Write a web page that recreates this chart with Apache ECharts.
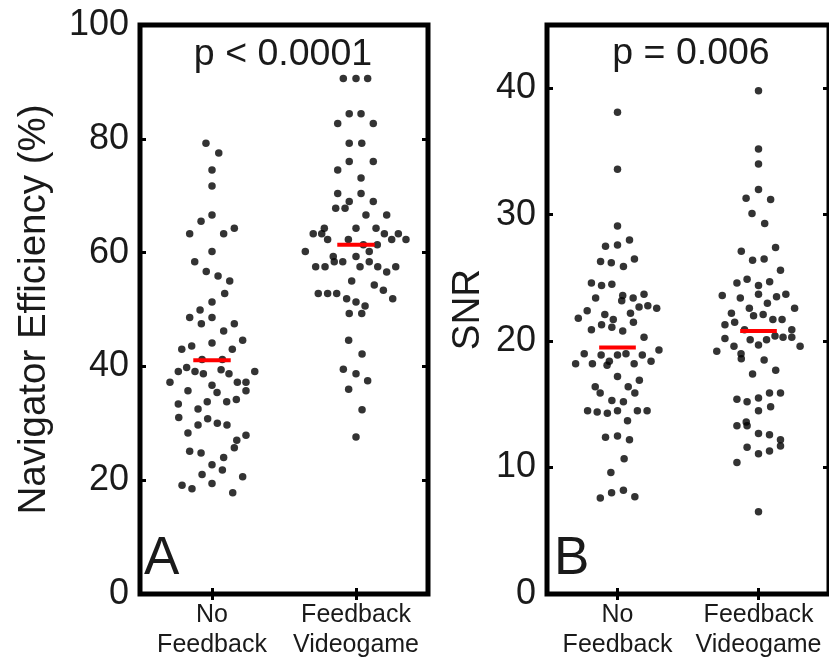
<!DOCTYPE html>
<html><head><meta charset="utf-8">
<script src="https://cdn.jsdelivr.net/npm/echarts@6/dist/echarts.min.js"></script>
<style>html,body{margin:0;padding:0;background:#fff;overflow:hidden}#c{width:829px;height:660px}</style>
</head><body><div id="c"></div>
<script>
const categories = ['No\nFeedback', 'Feedback\nVideogame'];
const effTicks = [0, 20, 40, 60, 80, 100];
const snrTicks = [0, 10, 20, 30, 40];

// Panel A: Navigator Efficiency (%)
const effNoFeedback = [79.2,77.5,74.5,71.7,66.6,65.5,63.3,63.3,64.3,60.2,58.4,56.7,55.9,55.0,52.8,51.3,49.9,48.6,48.6,47.5,47.5,46.2,44.1,43.6,43.0,44.6,43.0,41.2,41.2,39.8,39.1,39.1,38.7,39.4,38.7,39.1,37.2,37.2,37.2,36.7,35.7,35.4,35.7,33.4,33.8,33.8,34.2,32.5,31.0,30.8,29.7,30.0,29.7,28.3,27.9,27.0,25.7,25.1,24.8,24.0,22.7,21.0,21.8,20.6,19.1,18.5,19.4,17.8];
const effNoFeedbackJitter = [-0.042,0.047,0,0,0,-0.076,-0.155,0.081,0.155,0,-0.120,-0.040,0.042,0.123,0.088,0,-0.083,-0.155,0,-0.074,0.155,0.081,0,-0.141,-0.210,0.213,0.141,-0.069,0.072,-0.176,-0.234,-0.118,-0.060,0.063,0.118,0.297,-0.292,0.176,0.236,0,-0.167,0.035,0.236,-0.234,-0.033,0.102,0.169,-0.097,-0.231,-0.030,-0.097,0.037,0.104,-0.167,0.236,0.172,0.155,-0.155,-0.076,0.081,0,-0.069,0.072,0.213,-0.208,-0.139,0,0.144];
const effVideogame = [90.6,90.6,90.6,84.4,84.4,82.7,82.7,79.2,79.2,76.0,76.0,74.5,73.1,70.4,70.4,69.0,69.0,67.8,67.8,66.6,66.6,64.3,64.3,64.3,63.3,63.3,63.3,63.3,62.3,62.3,62.3,62.3,61.4,61.4,60.2,60.2,59.3,59.3,58.4,58.4,58.4,57.5,57.5,57.5,57.5,57.5,56.6,55.0,54.3,53.4,52.8,52.8,52.8,51.9,51.9,51.3,50.6,49.3,49.3,44.6,42.2,39.5,38.7,37.5,36.0,32.4,27.6];
const effVideogameJitter = [-0.088,0,0.081,-0.047,0.035,-0.127,0.120,-0.047,0.040,-0.047,0.120,-0.127,0.035,-0.127,0.035,-0.047,0.120,-0.141,-0.076,0.069,0.213,-0.220,0,0.139,-0.297,-0.238,0.197,0.294,-0.197,-0.053,0.248,0.347,0.051,0.148,-0.352,0.092,-0.158,0,-0.151,-0.092,0.092,-0.280,-0.215,0.028,0.151,0.276,0.213,-0.030,0.127,0.190,-0.262,-0.197,-0.134,-0.065,0.255,0,0.063,-0.047,0.040,-0.051,0.042,-0.088,0,0.081,-0.051,0.042,0];
const effMedians = [41.1, 61.4];

// Panel B: SNR
const snrNoFeedback = [38.1,33.6,29.1,28.0,27.6,27.5,26.5,26.3,26.2,25.9,24.6,24.5,24.4,23.7,23.6,23.4,23.4,23.2,22.8,22.7,22.6,22.4,22.2,22.1,21.8,21.7,21.5,21.3,21.1,20.9,20.8,20.3,19.3,19.0,19.0,18.9,18.9,18.9,18.4,18.4,18.2,18.2,18.2,18.1,17.2,16.9,16.4,16.4,15.9,15.9,15.3,15.2,14.5,14.5,14.5,14.5,14.4,14.3,13.7,12.5,12.4,12.2,10.7,9.6,8.2,8.0,7.7,7.6];
const snrNoFeedbackJitter = [0,0,0,0.085,0,-0.085,0.120,-0.120,-0.044,0.042,-0.185,-0.040,-0.113,0.188,0.037,0.111,-0.155,0.030,0.215,0.153,0.278,-0.215,0.092,-0.090,-0.278,-0.030,0.113,-0.113,-0.040,-0.185,0.037,0.188,0.294,-0.236,0.060,-0.116,0,0.176,-0.058,0.238,-0.178,0.118,-0.297,-0.074,0,0.155,0.076,-0.158,-0.123,0.123,-0.040,0.042,-0.212,0,0.141,0.210,-0.144,-0.072,0.071,0,-0.085,0.085,0.047,-0.047,0.042,-0.042,0.123,-0.122];
const snrVideogame = [39.8,35.2,34.0,32.0,31.3,31.2,30.1,29.3,27.4,27.1,26.5,26.4,25.6,24.9,24.6,24.7,24.4,23.7,23.7,23.6,23.5,23.4,23.0,22.6,22.6,22.2,22.1,22.0,21.7,21.7,21.5,21.3,20.9,20.9,20.4,20.3,20.3,20.2,20.1,20.1,19.7,19.6,19.6,19.2,19.0,18.6,18.5,17.7,17.4,15.9,15.9,15.5,15.4,15.2,14.8,14.5,13.6,13.3,13.3,12.7,12.6,12.2,11.7,11.6,11.3,11.1,10.4,6.5];
const snrVideogameJitter = [0,0,0,0,-0.088,0.086,-0.046,0.044,0.121,-0.122,0.040,-0.042,0.156,-0.081,-0.153,0.079,0,0.194,0,-0.257,0.128,-0.129,0.063,-0.065,0.256,-0.192,0.033,-0.035,0.167,0.102,-0.169,-0.238,-0.099,0.236,0.117,0.174,0.236,-0.238,-0.059,0.057,0,-0.174,0.295,-0.296,-0.124,-0.122,0.040,0.122,-0.042,0.078,0.156,0,-0.153,-0.081,0.086,0,-0.087,-0.153,-0.081,0,0.078,0.156,0.156,-0.081,0.078,0,-0.153,0];
const snrMedians = [19.5, 20.8];

const pTexts = ['p < 0.0001', 'p = 0.006'];
const panelLetters = ['A', 'B'];

const FONT = "'Liberation Sans', Arial, Helvetica, sans-serif";
const TXT = '#1a1a1a';
const MEDIAN_HALF = 0.13;
const catPos = categories.map((c, i) => i + 1);

function tickStyle() {
  return { inside: true, length: 6, lineStyle: { color: '#000', width: 3 } };
}
function xAxes(g) {
  return [
    { gridIndex: g, type: 'value', min: 0.5, max: 2.5, position: 'bottom',
      axisLine: { show: false }, splitLine: { show: false },
      axisTick: Object.assign(tickStyle(), { customValues: catPos }),
      axisLabel: { customValues: catPos, formatter: v => categories[Math.round(v) - 1] || '',
        fontSize: 25, lineHeight: 30, color: TXT, fontFamily: FONT, margin: 6 } },
    { gridIndex: g, type: 'value', min: 0.5, max: 2.5, position: 'top',
      axisLine: { show: false }, splitLine: { show: false },
      axisTick: Object.assign(tickStyle(), { customValues: catPos }),
      axisLabel: { show: false } }
  ];
}
function yAxes(g, ticks, max, name, gap) {
  return [
    { gridIndex: g, type: 'value', min: 0, max: max, position: 'left',
      name: name, nameLocation: 'middle', nameGap: gap,
      nameTextStyle: { fontSize: 38.5, color: TXT, fontFamily: FONT },
      axisLine: { show: false }, splitLine: { show: false },
      axisTick: Object.assign(tickStyle(), { customValues: ticks }),
      axisLabel: { customValues: ticks, fontSize: 36, color: TXT, fontFamily: FONT, margin: 11 } },
    { gridIndex: g, type: 'value', min: 0, max: max, position: 'right',
      axisLine: { show: false }, splitLine: { show: false },
      axisTick: Object.assign(tickStyle(), { customValues: ticks }),
      axisLabel: { show: false } }
  ];
}
function dots(vals, jit, cat, xi, yi) {
  return { type: 'scatter', xAxisIndex: xi, yAxisIndex: yi, symbol: 'circle', symbolSize: 7.5,
    itemStyle: { color: '#000' }, z: 3, silent: true,
    data: vals.map((v, i) => [cat + jit[i], v]) };
}
function median(m, cat, xi, yi) {
  return { type: 'line', xAxisIndex: xi, yAxisIndex: yi, symbol: 'none', z: 5, silent: true,
    lineStyle: { color: '#ff0000', width: 4 },
    data: [[cat - MEDIAN_HALF, m], [cat + MEDIAN_HALF, m]] };
}

const gridBase = { top: 25, height: 572, show: true, borderColor: '#000', borderWidth: 5, backgroundColor: 'transparent', containLabel: false };

const option = {
  animation: false,
  backgroundColor: '#fff',
  grid: [
    Object.assign({ left: 140, width: 288 }, gridBase),
    Object.assign({ left: 547, width: 289 }, gridBase)
  ],
  xAxis: xAxes(0).concat(xAxes(1)),
  yAxis: yAxes(0, effTicks, 100, 'Navigator Efficiency (%)', 86).concat(yAxes(1, snrTicks, 45, 'SNR', 59)),
  series: [
    dots(effNoFeedback, effNoFeedbackJitter, catPos[0], 0, 0),
    dots(effVideogame, effVideogameJitter, catPos[1], 0, 0),
    median(effMedians[0], catPos[0], 0, 0),
    median(effMedians[1], catPos[1], 0, 0),
    dots(snrNoFeedback, snrNoFeedbackJitter, catPos[0], 2, 2),
    dots(snrVideogame, snrVideogameJitter, catPos[1], 2, 2),
    median(snrMedians[0], catPos[0], 2, 2),
    median(snrMedians[1], catPos[1], 2, 2)
  ],
  graphic: [
    { type: 'text', x: 283, y: 55, z: 10, style: { text: pTexts[0], fill: TXT, font: '37.5px ' + FONT, textAlign: 'center', textVerticalAlign: 'middle', align: 'center', verticalAlign: 'middle' } },
    { type: 'text', x: 691, y: 54, z: 10, style: { text: pTexts[1], fill: TXT, font: '37.5px ' + FONT, textAlign: 'center', textVerticalAlign: 'middle', align: 'center', verticalAlign: 'middle' } },
    { type: 'text', x: 144, y: 559, z: 10, style: { text: panelLetters[0], fill: TXT, font: '53px ' + FONT, textAlign: 'left', textVerticalAlign: 'middle', align: 'left', verticalAlign: 'middle' } },
    { type: 'text', x: 554, y: 559, z: 10, style: { text: panelLetters[1], fill: TXT, font: '53px ' + FONT, textAlign: 'left', textVerticalAlign: 'middle', align: 'left', verticalAlign: 'middle' } }
  ]
};
const chart = echarts.init(document.getElementById('c'), null, { renderer: 'canvas' });
chart.setOption(option);
</script></body></html>
